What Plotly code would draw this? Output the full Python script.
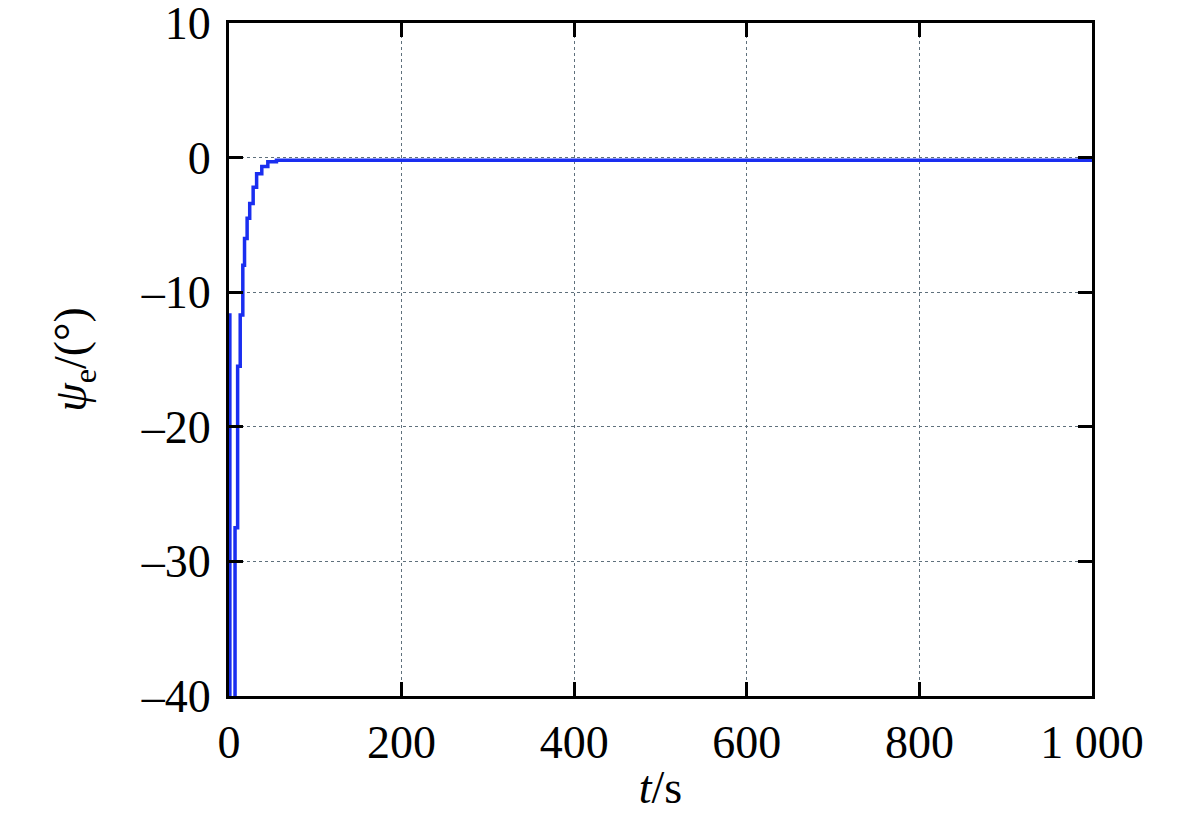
import plotly.graph_objects as go

# heading error over time (zero-order hold samples)
t_s = [0, 1, 7, 10, 13, 16, 18, 21, 24, 28, 32, 38, 45, 55, 1000]
psi_e = [-11.7, -60, -27.5, -15.5, -11.7, -8.0, -6.0, -4.5, -3.4, -2.2, -1.2, -0.65, -0.3, -0.2, -0.2]

x_ticks = [0, 200, 400, 600, 800, 1000]
x_ticktext = ["0", "200", "400", "600", "800", "1 000"]
y_ticks = [10, 0, -10, -20, -30, -40]
y_ticktext = ["10", "0", "–10", "–20", "–30", "–40"]

FONT = "Liberation Serif, Times New Roman, serif"

fig = go.Figure()
fig.add_trace(go.Scatter(
    x=t_s, y=psi_e,
    mode="lines",
    line=dict(color="#1a2ef0", width=3.5, shape="hv"),
    showlegend=False,
))

axis_common = dict(
    showline=True, linecolor="black", linewidth=3, mirror="ticks",
    ticks="inside", ticklen=14, tickwidth=3, tickcolor="black",
    showgrid=True, gridcolor="#5f707c", gridwidth=1, griddash="dot",
    zeroline=False,
    tickfont=dict(family=FONT, size=46, color="black"),
    ticklabeloverflow="allow",
)

fig.update_xaxes(
    range=[0, 1000.01], tickvals=x_ticks, ticktext=x_ticktext,
    title=dict(text="<i>t</i>/s", font=dict(family=FONT, size=46, color="black"), standoff=4),
    ticklabelstandoff=4,
    **axis_common,
)
fig.update_yaxes(
    range=[-40.01, 10.01], tickvals=y_ticks, ticktext=y_ticktext,
    title=dict(text="<i>ψ</i><sub>e</sub>/(°)", font=dict(family=FONT, size=46, color="black"), standoff=40),
    ticklabelstandoff=6,
    **axis_common,
)

fig.update_layout(
    width=1181, height=819,
    plot_bgcolor="white", paper_bgcolor="white",
    margin=dict(l=221, r=97, t=15, b=131, autoexpand=False),
    font=dict(family=FONT, color="black"),
)

fig.write_html("out.html")
